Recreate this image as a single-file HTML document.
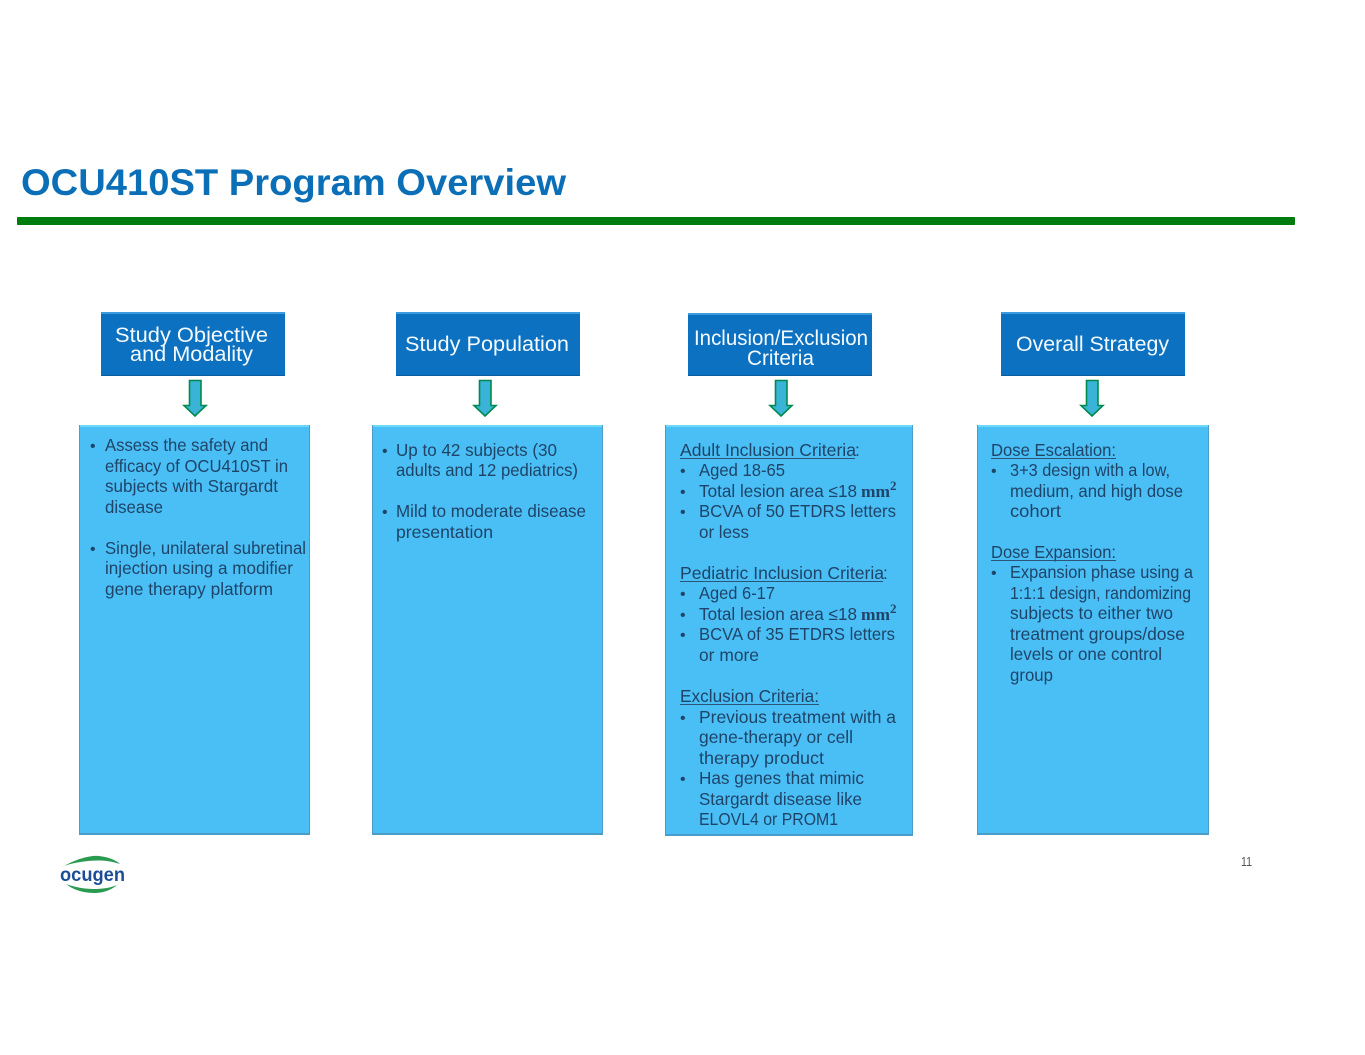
<!DOCTYPE html>
<html>
<head>
<meta charset="utf-8">
<style>
html,body{margin:0;padding:0;background:#fff;}
svg{display:block;font-family:"Liberation Sans",sans-serif;}
.h{fill:#f4faff;font-size:21px;}
.t{fill:#1f4468;font-size:17.5px;}
.b{fill:#1f4468;font-size:16px;}
.m{font-family:"Liberation Serif",serif;font-weight:bold;font-size:17px;fill:#1f4468;}
.s{font-family:"Liberation Serif",serif;font-weight:bold;font-size:13px;fill:#1f4468;}
.u{stroke:#2c5478;stroke-width:1;}
</style>
</head>
<body>
<svg width="1365" height="1055" viewBox="0 0 1365 1055" xmlns="http://www.w3.org/2000/svg">
<rect width="1365" height="1055" fill="#fff"/>

<text x="21" y="195" font-size="37" font-weight="bold" fill="#0b6fb8" textLength="545" lengthAdjust="spacingAndGlyphs">OCU410ST Program Overview</text>
<rect x="17" y="217" width="1278" height="8" rx="1" fill="#007d0e"/>

<!-- Headers -->
<g>
<rect x="101" y="312" width="184" height="64" fill="#0b71c0"/><rect x="101" y="312" width="184" height="2" fill="#3c9bdc"/><rect x="101" y="375" width="184" height="1" fill="#0a5c9e"/>
<rect x="396" y="312" width="184" height="64" fill="#0b71c0"/><rect x="396" y="312" width="184" height="2" fill="#3c9bdc"/><rect x="396" y="375" width="184" height="1" fill="#0a5c9e"/>
<rect x="688" y="313" width="184" height="63" fill="#0b71c0"/><rect x="688" y="313" width="184" height="2" fill="#3c9bdc"/><rect x="688" y="375" width="184" height="1" fill="#0a5c9e"/>
<rect x="1001" y="312" width="184" height="64" fill="#0b71c0"/><rect x="1001" y="312" width="184" height="2" fill="#3c9bdc"/><rect x="1001" y="375" width="184" height="1" fill="#0a5c9e"/>
</g>
<text class="h" x="115" y="342" textLength="153" lengthAdjust="spacingAndGlyphs">Study Objective</text>
<text class="h" x="130" y="361" textLength="123" lengthAdjust="spacingAndGlyphs">and Modality</text>
<text class="h" x="405" y="351" textLength="164" lengthAdjust="spacingAndGlyphs">Study Population</text>
<text class="h" x="694" y="345" font-size="20" textLength="174" lengthAdjust="spacingAndGlyphs">Inclusion/Exclusion</text>
<text class="h" x="747" y="365" textLength="67" lengthAdjust="spacingAndGlyphs">Criteria</text>
<text class="h" x="1016" y="351" textLength="153" lengthAdjust="spacingAndGlyphs">Overall Strategy</text>

<!-- Arrows -->
<g fill="#3ab4d6" stroke="#008a50" stroke-width="1.6">
<path d="M189.5 380.5H201V405.5H206L195 416L184 405.5H189.5Z"/>
<path d="M479.5 380.5H491V405.5H496L485 416L474 405.5H479.5Z"/>
<path d="M775.5 380.5H787V405.5H792L781 416L770 405.5H775.5Z"/>
<path d="M1086.5 380.5H1098V405.5H1103L1092 416L1081 405.5H1086.5Z"/>
</g>

<!-- Bodies -->
<g>
<rect x="79" y="425" width="231" height="410" fill="#49bff6"/>
<rect x="372" y="425" width="231" height="410" fill="#49bff6"/>
<rect x="665" y="425" width="248" height="411" fill="#49bff6"/>
<rect x="977" y="425" width="232" height="410" fill="#49bff6"/>
</g>
<g fill="#6cd8fb">
<rect x="79" y="425" width="231" height="2"/><rect x="372" y="425" width="231" height="2"/><rect x="665" y="425" width="248" height="2"/><rect x="977" y="425" width="232" height="2"/>
</g>
<g fill="#4b9cc8">
<rect x="79" y="833" width="231" height="2"/><rect x="79" y="425" width="1" height="410"/><rect x="309" y="425" width="1" height="410"/>
<rect x="372" y="833" width="231" height="2"/><rect x="372" y="425" width="1" height="410"/><rect x="602" y="425" width="1" height="410"/>
<rect x="665" y="834" width="248" height="2"/><rect x="665" y="425" width="1" height="411"/><rect x="912" y="425" width="1" height="411"/>
<rect x="977" y="833" width="232" height="2"/><rect x="977" y="425" width="1" height="410"/><rect x="1208" y="425" width="1" height="410"/>
</g>

<!-- Column 1 -->
<text class="b" x="90" y="451">•</text>
<text class="t" x="105" y="451" textLength="163" lengthAdjust="spacingAndGlyphs">Assess the safety and</text>
<text class="t" x="105" y="472" textLength="183" lengthAdjust="spacingAndGlyphs">efficacy of OCU410ST in</text>
<text class="t" x="105" y="492" textLength="173" lengthAdjust="spacingAndGlyphs">subjects with Stargardt</text>
<text class="t" x="105" y="513" textLength="58" lengthAdjust="spacingAndGlyphs">disease</text>
<text class="b" x="90" y="554">•</text>
<text class="t" x="105" y="554" textLength="201" lengthAdjust="spacingAndGlyphs">Single, unilateral subretinal</text>
<text class="t" x="105" y="574" textLength="188" lengthAdjust="spacingAndGlyphs">injection using a modifier</text>
<text class="t" x="105" y="595" textLength="168" lengthAdjust="spacingAndGlyphs">gene therapy platform</text>

<!-- Column 2 -->
<text class="b" x="382" y="456">•</text>
<text class="t" x="396" y="456" textLength="161" lengthAdjust="spacingAndGlyphs">Up to 42 subjects (30</text>
<text class="t" x="396" y="476" textLength="182" lengthAdjust="spacingAndGlyphs">adults and 12 pediatrics)</text>
<text class="b" x="382" y="517">•</text>
<text class="t" x="396" y="517" textLength="190" lengthAdjust="spacingAndGlyphs">Mild to moderate disease</text>
<text class="t" x="396" y="538" textLength="97" lengthAdjust="spacingAndGlyphs">presentation</text>

<!-- Column 3 -->
<text class="t" x="680" y="456" textLength="176" lengthAdjust="spacingAndGlyphs">Adult Inclusion Criteria</text><text class="t" x="855" y="456">:</text>
<line class="u" x1="680" y1="458.5" x2="855" y2="458.5"/>
<text class="b" x="680" y="476">•</text>
<text class="t" x="699" y="476" textLength="86" lengthAdjust="spacingAndGlyphs">Aged 18-65</text>
<text class="b" x="680" y="497">•</text>
<text class="t" x="699" y="497" textLength="158" lengthAdjust="spacingAndGlyphs">Total lesion area ≤18</text>
<text class="m" x="861" y="497" textLength="29" lengthAdjust="spacingAndGlyphs">mm</text><text class="s" x="890" y="490">2</text>
<text class="b" x="680" y="517">•</text>
<text class="t" x="699" y="517" textLength="197" lengthAdjust="spacingAndGlyphs">BCVA of 50 ETDRS letters</text>
<text class="t" x="699" y="538" textLength="50" lengthAdjust="spacingAndGlyphs">or less</text>

<text class="t" x="680" y="579" textLength="204" lengthAdjust="spacingAndGlyphs">Pediatric Inclusion Criteria</text><text class="t" x="883" y="579">:</text>
<line class="u" x1="680" y1="581.5" x2="883" y2="581.5"/>
<text class="b" x="680" y="599">•</text>
<text class="t" x="699" y="599" textLength="76" lengthAdjust="spacingAndGlyphs">Aged 6-17</text>
<text class="b" x="680" y="620">•</text>
<text class="t" x="699" y="620" textLength="158" lengthAdjust="spacingAndGlyphs">Total lesion area ≤18</text>
<text class="m" x="861" y="620" textLength="29" lengthAdjust="spacingAndGlyphs">mm</text><text class="s" x="890" y="613">2</text>
<text class="b" x="680" y="640">•</text>
<text class="t" x="699" y="640" textLength="196" lengthAdjust="spacingAndGlyphs">BCVA of 35 ETDRS letters</text>
<text class="t" x="699" y="661" textLength="60" lengthAdjust="spacingAndGlyphs">or more</text>

<text class="t" x="680" y="702" textLength="139" lengthAdjust="spacingAndGlyphs">Exclusion Criteria:</text>
<line class="u" x1="680" y1="704.5" x2="819" y2="704.5"/>
<text class="b" x="680" y="723">•</text>
<text class="t" x="699" y="723" textLength="197" lengthAdjust="spacingAndGlyphs">Previous treatment with a</text>
<text class="t" x="699" y="743" textLength="154" lengthAdjust="spacingAndGlyphs">gene-therapy or cell</text>
<text class="t" x="699" y="764" textLength="125" lengthAdjust="spacingAndGlyphs">therapy product</text>
<text class="b" x="680" y="784">•</text>
<text class="t" x="699" y="784" textLength="165" lengthAdjust="spacingAndGlyphs">Has genes that mimic</text>
<text class="t" x="699" y="805" textLength="163" lengthAdjust="spacingAndGlyphs">Stargardt disease like</text>
<text class="t" x="699" y="825" textLength="139" lengthAdjust="spacingAndGlyphs">ELOVL4 or PROM1</text>

<!-- Column 4 -->
<text class="t" x="991" y="456" textLength="125" lengthAdjust="spacingAndGlyphs">Dose Escalation:</text>
<line class="u" x1="991" y1="458.5" x2="1116" y2="458.5"/>
<text class="b" x="991" y="476">•</text>
<text class="t" x="1010" y="476" textLength="160" lengthAdjust="spacingAndGlyphs">3+3 design with a low,</text>
<text class="t" x="1010" y="497" textLength="173" lengthAdjust="spacingAndGlyphs">medium, and high dose</text>
<text class="t" x="1010" y="517" textLength="51" lengthAdjust="spacingAndGlyphs">cohort</text>
<text class="t" x="991" y="558" textLength="125" lengthAdjust="spacingAndGlyphs">Dose Expansion:</text>
<line class="u" x1="991" y1="560.5" x2="1116" y2="560.5"/>
<text class="b" x="991" y="578">•</text>
<text class="t" x="1010" y="578" textLength="183" lengthAdjust="spacingAndGlyphs">Expansion phase using a</text>
<text class="t" x="1010" y="599" textLength="181" lengthAdjust="spacingAndGlyphs">1:1:1 design, randomizing</text>
<text class="t" x="1010" y="619" textLength="163" lengthAdjust="spacingAndGlyphs">subjects to either two</text>
<text class="t" x="1010" y="640" textLength="175" lengthAdjust="spacingAndGlyphs">treatment groups/dose</text>
<text class="t" x="1010" y="660" textLength="152" lengthAdjust="spacingAndGlyphs">levels or one control</text>
<text class="t" x="1010" y="681" textLength="43" lengthAdjust="spacingAndGlyphs">group</text>

<!-- Footer -->
<path d="M64 866C78 858 92 855 99 856C108 857 116 860 120 864C108 860 98 860 88 861C80 862 72 863 64 866Z" fill="#2a9a50"/>
<path d="M66 884C74 887 84 889 94 889C102 889 110 888 117 885C110 891 102 893 94 893C84 893 73 890 66 884Z" fill="#2a9a50"/>
<text x="60" y="881" font-size="19.5" font-weight="bold" fill="#1c4e96" textLength="65" lengthAdjust="spacingAndGlyphs">ocugen</text>
<text x="1241" y="866" font-size="12.5" fill="#555" textLength="11" lengthAdjust="spacingAndGlyphs">11</text>
</svg>
</body>
</html>
